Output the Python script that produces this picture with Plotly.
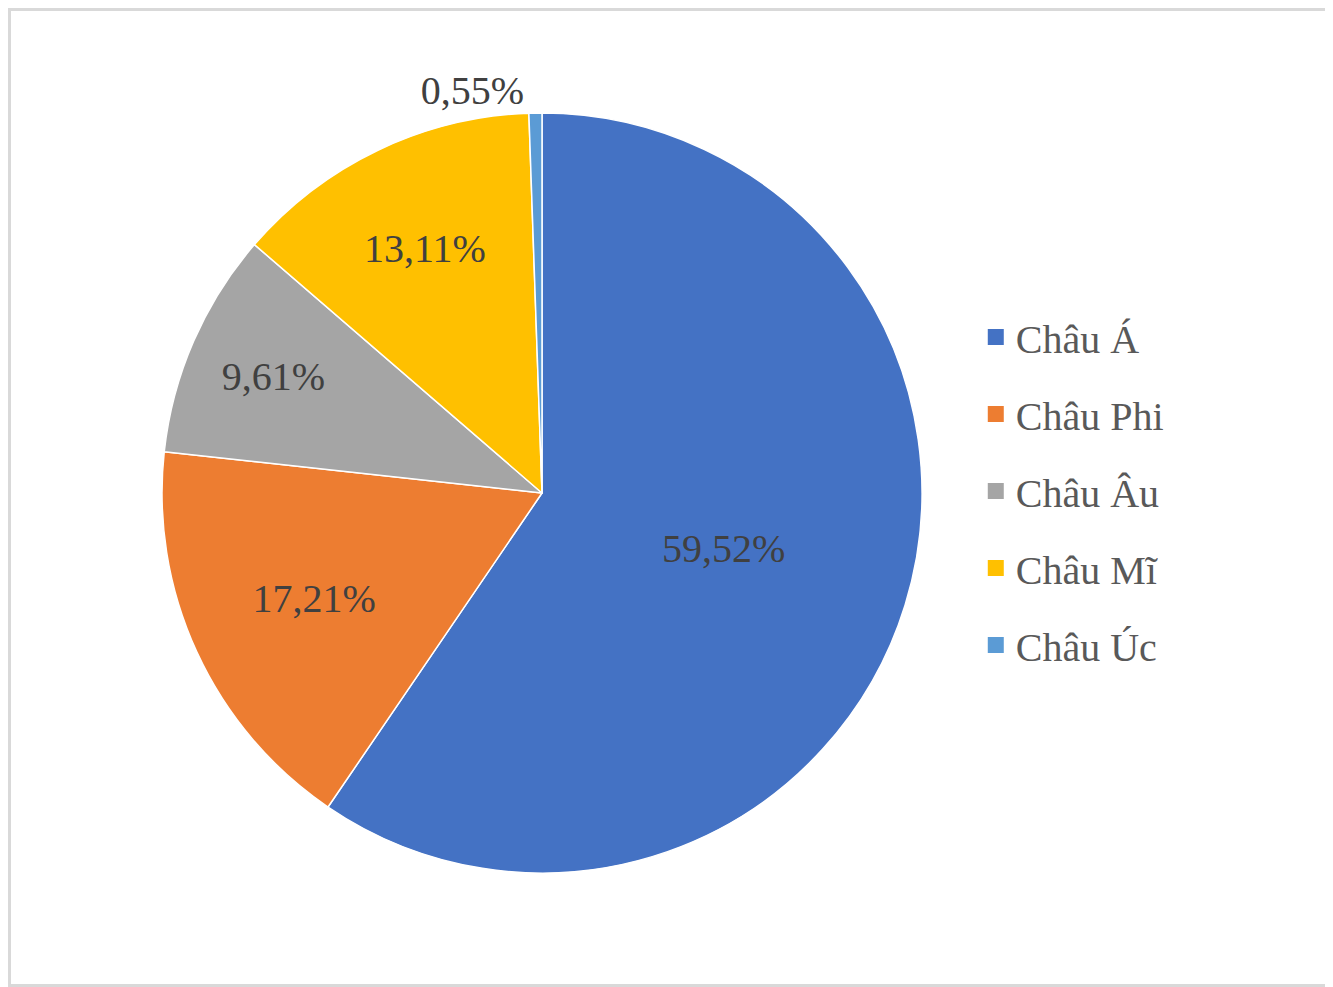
import plotly.graph_objects as go

chau_luc = ["Châu Á", "Châu Phi", "Châu Âu", "Châu Mĩ", "Châu Úc"]
ty_le = [59.52, 17.21, 9.61, 13.11, 0.55]
mau = ["#4472C4", "#ED7D31", "#A5A5A5", "#FFC000", "#5B9BD5"]
vi_tri_nhan = ["inside", "inside", "inside", "inside", "outside"]

nhan = [f"{v:.2f}".replace(".", ",") + "%" for v in ty_le]

# trang co le 8px cua body, nen hinh nho lai 8px
W, H = 1325, 979

fig = go.Figure()

fig.add_trace(go.Pie(
    labels=chau_luc,
    values=ty_le,
    text=nhan,
    textinfo="text",
    textposition=vi_tri_nhan,
    insidetextorientation="horizontal",
    sort=False,
    direction="clockwise",
    rotation=0,
    marker=dict(colors=mau, line=dict(color="white", width=1.5)),
    textfont=dict(family="Liberation Serif", size=40, color="#404040"),
    domain=dict(x=[154 / W, 914 / W], y=[(H - 865) / H, (H - 105) / H]),
    showlegend=False,
    hoverinfo="label+percent",
))

# chu giai: moi muc mot nhom de gian cach giong ban goc
for ten, c in zip(chau_luc, mau):
    fig.add_trace(go.Scatter(
        x=[None], y=[None], mode="markers", name=ten,
        marker=dict(symbol="square", size=18, color=c),
        legendgroup=ten, showlegend=True,
    ))

fig.update_layout(
    width=W, height=H,
    margin=dict(l=0, r=0, t=0, b=0),
    paper_bgcolor="white",
    plot_bgcolor="white",
    xaxis=dict(visible=False),
    yaxis=dict(visible=False),
    legend=dict(
        x=0.7304, y=1 - 483 / H, xanchor="left", yanchor="middle",
        font=dict(family="Liberation Serif", size=40, color="#595959"),
        tracegroupgap=22,
        itemsizing="trace",
        bgcolor="rgba(0,0,0,0)",
    ),
    shapes=[dict(type="rect", xref="paper", yref="paper",
                 x0=1.5 / W, y0=1.5 / H, x1=1 - 1.5 / W, y1=1 - 1.5 / H,
                 line=dict(color="#D9D9D9", width=3))],
)

fig.write_html("out.html")
